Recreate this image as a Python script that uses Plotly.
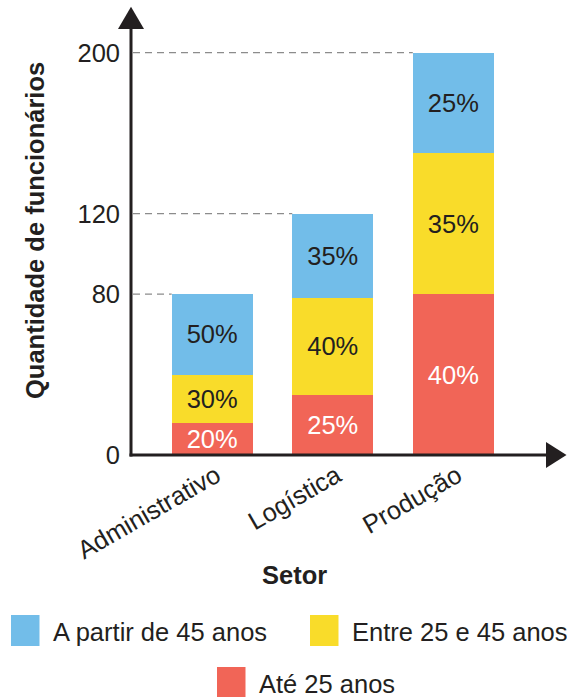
import plotly.graph_objects as go

# ---- data ----
setores = ["Administrativo", "Logística", "Produção"]
totais = [80, 120, 200]
ate25 = [16, 30, 80]
entre25_45 = [24, 48, 70]
apartir45 = [40, 42, 50]
pct_ate25 = ["20%", "25%", "40%"]
pct_entre = ["30%", "40%", "35%"]
pct_apartir = ["50%", "35%", "25%"]
y_ticks = [0, 80, 120, 200]
series_names = ["A partir de 45 anos", "Entre 25 e 45 anos", "Até 25 anos"]

BLUE = "rgb(114,189,233)"
YELLOW = "rgb(249,220,42)"
RED = "rgb(241,101,87)"
INK = "#231F20"
FONT = "Liberation Sans"
FS = 25.5

W, H = 567, 697
L, R, T, B = 131, 566, 7, 455
PW, PH = R - L, B - T
xs = list(range(len(setores)))
px_per_cat = 120.55
xmin = -(212.2 - L) / px_per_cat
xmax = xmin + PW / px_per_cat
ymax = PH / 2.0115
BW = 0.672


def xp(px):
    return (px - L) / PW


def yp(py):
    return (B - py) / PH


fig = go.Figure()
for vals, txt, col, tcol, name in [
    (ate25, pct_ate25, RED, "white", series_names[2]),
    (entre25_45, pct_entre, YELLOW, INK, series_names[1]),
    (apartir45, pct_apartir, BLUE, INK, series_names[0]),
]:
    fig.add_trace(go.Bar(
        x=xs, y=vals, width=BW, name=name,
        marker=dict(color=col, line=dict(width=0)),
        text=txt, textposition="inside", insidetextanchor="middle",
        constraintext="none",
        textfont=dict(family=FONT, size=FS, color=tcol),
        showlegend=False, hoverinfo="skip",
    ))

shapes = []
# dashed reference lines from y axis to bar tops
for i, t in enumerate(totais):
    shapes.append(dict(type="line", xref="x", yref="y",
                       x0=xmin + 2 / px_per_cat, x1=i - BW / 2, y0=t, y1=t,
                       line=dict(color="#8c8c8c", width=1.3, dash="7px,5px"),
                       layer="below"))
# axes lines and arrows
shapes.append(dict(type="line", xref="paper", yref="paper",
                   x0=0, x1=0, y0=-1.5 / PH, y1=yp(28),
                   line=dict(color=INK, width=3)))
shapes.append(dict(type="line", xref="paper", yref="paper",
                   x0=-1.5 / PW, x1=xp(548), y0=0, y1=0,
                   line=dict(color=INK, width=3)))
shapes.append(dict(type="path", xref="paper", yref="paper",
                   path=f"M {xp(L-13)},{yp(29)} L {xp(L)},{yp(6.7)} L {xp(L+13)},{yp(29)} Z",
                   fillcolor=INK, line=dict(width=0)))
shapes.append(dict(type="path", xref="paper", yref="paper",
                   path=f"M {xp(546)},{yp(B-13)} L {xp(566.5)},{yp(B)} L {xp(546)},{yp(B+13)} Z",
                   fillcolor=INK, line=dict(width=0)))

# legend (manual layout: two items on first row, one centred below)
legend_items = [
    (series_names[0], BLUE, 11, 615),
    (series_names[1], YELLOW, 310, 615),
    (series_names[2], RED, 217, 667),
]
annotations = []
for name, col, sx, sy in legend_items:
    shapes.append(dict(type="rect", xref="paper", yref="paper",
                       x0=xp(sx), x1=xp(sx + 28.5), y0=yp(sy), y1=yp(sy + 31),
                       fillcolor=col, line=dict(width=0)))
    annotations.append(dict(xref="paper", yref="paper", x=xp(sx + 40), y=yp(sy + 17),
                            text=name, showarrow=False, xanchor="left", yanchor="middle",
                            font=dict(family=FONT, size=FS, color=INK)))

annotations.append(dict(xref="paper", yref="paper", x=xp(294), y=yp(575),
                        text="<b>Setor</b>", showarrow=False, xanchor="center", yanchor="middle",
                        font=dict(family=FONT, size=FS, color=INK)))
annotations.append(dict(xref="paper", yref="paper", x=xp(35), y=yp(231),
                        text="<b>Quantidade de funcionários</b>", showarrow=False, textangle=-90,
                        xanchor="center", yanchor="middle",
                        font=dict(family=FONT, size=FS, color=INK)))

fig.update_layout(
    width=W, height=H,
    margin=dict(l=L, r=W - R, t=T, b=H - B, pad=0),
    paper_bgcolor="white", plot_bgcolor="white",
    barmode="stack",
    shapes=shapes, annotations=annotations,
    font=dict(family=FONT, size=FS, color=INK),
    xaxis=dict(range=[xmin, xmax], tickvals=xs, ticktext=setores, tickangle=-30,
               showgrid=False, zeroline=False, showline=False, ticks="",
               ticklabelshift=4,
               tickfont=dict(family=FONT, size=FS, color=INK)),
    yaxis=dict(range=[0, ymax], tickvals=y_ticks, showgrid=False, zeroline=False,
               showline=False, ticks="", ticklabelstandoff=10,
               tickfont=dict(family=FONT, size=FS, color=INK)),
)

fig.write_html("out.html", config={"displayModeBar": False},
               post_script="document.body.style.margin='0';document.body.style.overflow='hidden';")
